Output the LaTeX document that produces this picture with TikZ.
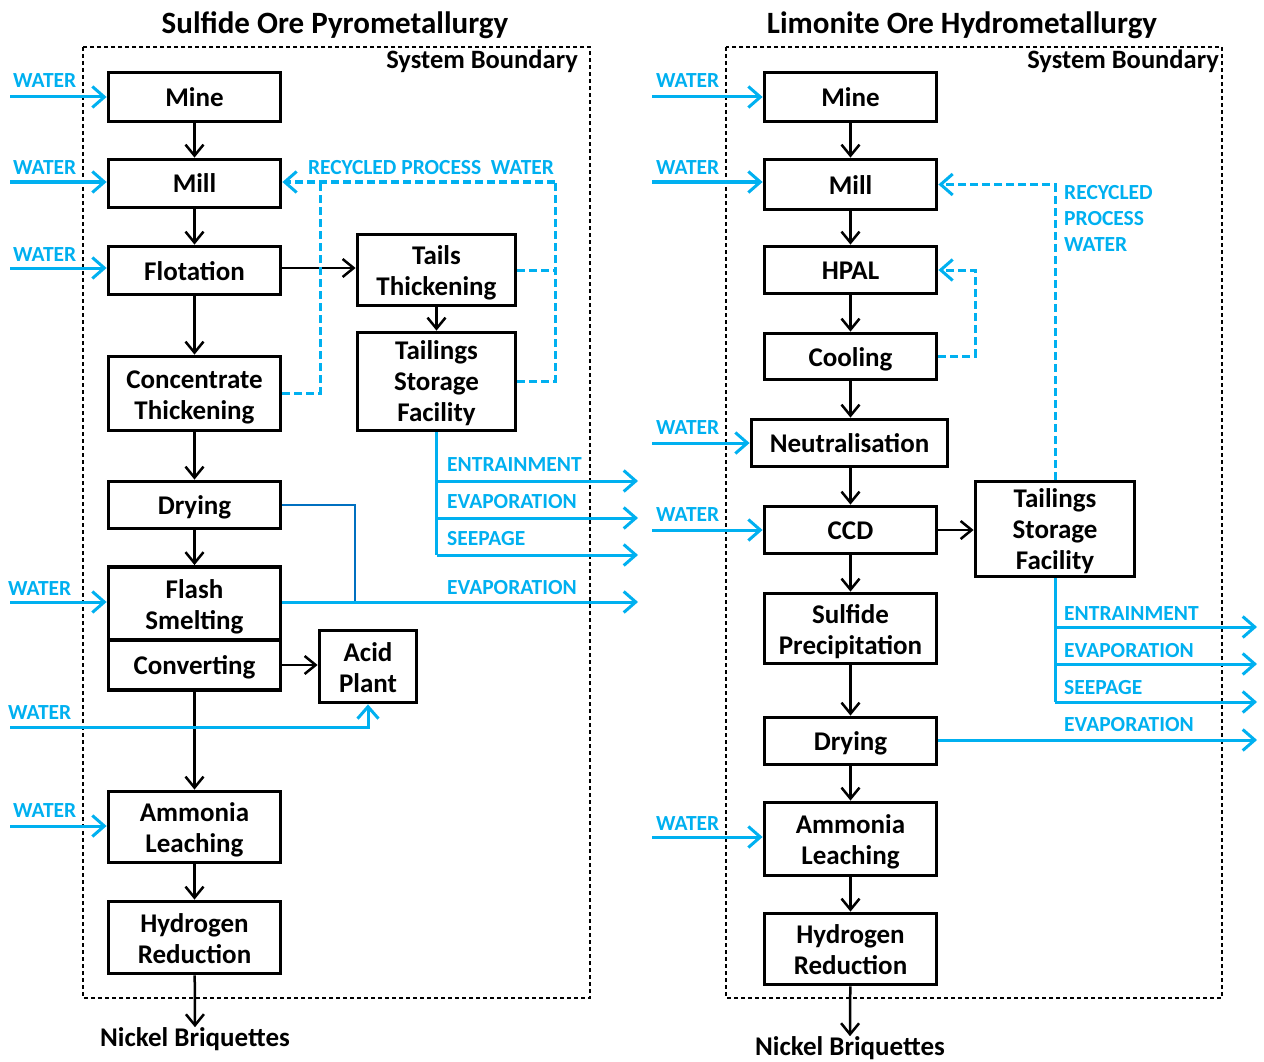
\documentclass[tikz,border=0pt]{standalone}
\usepackage{fontspec}
\setmainfont{Carlito}
\usetikzlibrary{arrows.meta}
\definecolor{cy}{RGB}{0,176,240}
\definecolor{dblue}{RGB}{0,112,192}
\newcommand\bxfont{\fontsize{27}{31}\selectfont\bfseries}
\newcommand\lbfont{\fontsize{21.5}{26}\selectfont\bfseries}
\begin{document}
\begin{tikzpicture}[x=1pt,y=-1pt,
  box/.style={draw, line width=3.8pt, align=center, font=\bxfont, inner sep=0pt},
  sl/.style={box, text height=21pt, text depth=2pt},
  ml/.style={box, text height=51pt, text depth=0pt},
  tl/.style={box, text height=80pt, text depth=0pt},
  arr/.style={line width=2.5pt, -{Straight Barb[length=11pt,width=18pt,line width=2.5pt]}},
  bl/.style={cy, line width=3pt},
  barr/.style={cy, line width=3pt, -{Straight Barb[length=12pt,width=21pt,line width=3pt]}},
  dsh/.style={cy, line width=3pt, dash pattern=on 8pt off 4pt},
  dsharr/.style={dsh, -{Straight Barb[length=12pt,width=21pt,line width=3pt]}},
  lab/.style={cy, font=\lbfont, inner sep=0pt},
  bound/.style={line width=1.3pt, dash pattern=on 4pt off 3pt},
  ttl/.style={font=\fontsize{31}{36}\selectfont\bfseries, inner sep=0pt},
  sysb/.style={font=\fontsize{26.5}{30}\selectfont\bfseries, inner sep=0pt, anchor=base east},
  nick/.style={font=\fontsize{27}{31}\selectfont\bfseries, inner sep=0pt}
]
\useasboundingbox (0,0) rectangle (1264,1062);

% ---------- titles and boundaries ----------
\node[ttl] (tL) at (335,25) {Sulfide Ore Pyrometallurgy};
\node[ttl] (tR) at (962,25) {Limonite Ore Hydrometallurgy};
\draw[bound] (83,47) rectangle (590,998);
\draw[bound] (726,47) rectangle (1222,998);
\node[sysb] (sbL) at (578,69) {System Boundary};
\node[sysb] (sbR) at (1219,69) {System Boundary};

% ---------- left boxes ----------
\node[sl, minimum width=172pt, minimum height=49pt] (L-mine) at (194.5,97) {Mine};
\node[sl, minimum width=172pt, minimum height=48pt] (L-mill) at (194.5,183.5) {Mill};
\node[sl, minimum width=172pt, minimum height=48pt] (L-flot) at (194.5,270.5) {Flotation};
\node[ml, minimum width=172pt, minimum height=74pt] (L-conc) at (194.5,393.5) {Concentrate\\Thickening};
\node[sl, minimum width=172pt, minimum height=47pt] (L-dry) at (194.5,505) {Drying};
\node[ml, minimum width=172pt, minimum height=73pt] (L-flash) at (194.5,603.5) {Flash\\Smelting};
\node[sl, minimum width=172pt, minimum height=50pt] (L-conv) at (194.5,665) {Converting};
\node[ml, minimum width=97pt, minimum height=72pt] (L-acid) at (368,666.5) {Acid\\Plant};
\node[ml, minimum width=172pt, minimum height=71pt] (L-amm) at (194.5,827) {Ammonia\\Leaching};
\node[ml, minimum width=172pt, minimum height=72pt] (L-h2) at (194.5,937.5) {Hydrogen\\Reduction};
\node[ml, minimum width=158pt, minimum height=71pt] (L-tails) at (436.5,270) {Tails\\Thickening};
\node[tl, minimum width=158pt, minimum height=98pt] (L-tsf) at (436.5,381.5) {Tailings\\Storage\\Facility};
\node[nick] (L-nick) at (195,1039) {Nickel Briquettes};

% ---------- left black flows ----------
\draw[arr] (L-mine) -- (L-mill);
\draw[arr] (L-mill) -- (L-flot);
\draw[arr] (L-flot) -- (L-conc);
\draw[arr] (L-conc) -- (L-dry);
\draw[arr] (L-dry) -- (L-flash);
\draw[arr] (L-conv) -- (L-amm);
\draw[arr] (L-amm) -- (L-h2);
\draw[arr] (L-h2) -- (L-nick.north);
\draw[arr] (L-flot.east |- 0,268) -- (L-tails.west |- 0,268);
\draw[arr] (L-tails) -- (L-tsf);
\draw[arr] (L-conv.east) -- (L-conv.east -| L-acid.west);

% ---------- left water inputs ----------
\coordinate (lw1) at (10,97);
\coordinate (lw2) at (10,182);
\coordinate (lw3) at (10,268);
\coordinate (lw4) at (10,602);
\coordinate (lw5) at (10,727);
\coordinate (lw6) at (10,826);
\draw[barr] (lw1) -- (lw1 -| L-mine.west);
\draw[barr] (lw2) -- (lw2 -| L-mill.west);
\draw[barr] (lw3) -- (lw3 -| L-flot.west);
\draw[barr] (lw4) -- (lw4 -| L-flash.west);
\draw[barr] (lw5) -| (L-acid.south);
\draw[barr] (lw6) -- (lw6 -| L-amm.west);
\node[lab, anchor=base west] (lwl1) at (13,88) {WATER};
\node[lab, anchor=base west] (lwl2) at (13,175) {WATER};
\node[lab, anchor=base west] (lwl3) at (13,261) {WATER};
\node[lab, anchor=base west] (lwl4) at (8,595) {WATER};
\node[lab, anchor=base west] (lwl5) at (8,719) {WATER};
\node[lab, anchor=base west] (lwl6) at (13,817) {WATER};

% ---------- left recycled water ----------
\coordinate (rL) at (320,182);
\coordinate (rR) at (555,182);
\draw[dsh] (L-conc.east) -| (rL);
\draw[dsh] (L-tsf.east) -| (rR);
\draw[dsh] (L-tails.east) -- (L-tails.east -| rR);
\draw[dsharr] (rR) -- (L-mill.east |- rR);
\node[lab] (lrec) at (431,168) {RECYCLED PROCESS\ \ WATER};

% ---------- left outputs ----------
\coordinate (lt1) at (436.5,481);
\coordinate (lt2) at (436.5,518);
\coordinate (lt3) at (436.5,555);
\coordinate (le1) at (638,481);
\coordinate (le2) at (638,518);
\coordinate (le3) at (638,555);
\coordinate (le4) at (638,602);
\coordinate (ldj) at (355,602);
\draw[bl] (L-tsf.south) -- (lt3);
\draw[barr] (lt1) -- (le1);
\draw[barr] (lt2) -- (le2);
\draw[barr] (lt3) -- (le3);
\draw[dblue, line width=2.5pt] (L-dry.east) -| (ldj);
\draw[barr] (L-flash.east |- le4) -- (le4);
\node[lab, anchor=base west] (lo1) at (447,471) {ENTRAINMENT};
\node[lab, anchor=base west] (lo2) at (447,508) {EVAPORATION};
\node[lab, anchor=base west] (lo3) at (447,545) {SEEPAGE};
\node[lab, anchor=base west] (lo4) at (447,594) {EVAPORATION};

% ---------- right boxes ----------
\node[sl, minimum width=172pt, minimum height=49pt] (R-mine) at (850.5,97) {Mine};
\node[sl, minimum width=172pt, minimum height=50pt] (R-mill) at (850.5,184.5) {Mill};
\node[sl, minimum width=172pt, minimum height=47pt] (R-hpal) at (850.5,270) {HPAL};
\node[sl, minimum width=172pt, minimum height=46pt] (R-cool) at (850.5,356.5) {Cooling};
\node[sl, minimum width=196pt, minimum height=47pt] (R-neut) at (849.5,443) {Neutralisation};
\node[sl, minimum width=172pt, minimum height=47pt] (R-ccd) at (850.5,530) {CCD};
\node[ml, minimum width=172pt, minimum height=70pt] (R-sulf) at (850.5,628.5) {Sulfide\\Precipitation};
\node[sl, minimum width=172pt, minimum height=47pt] (R-dry) at (850.5,741) {Drying};
\node[ml, minimum width=172pt, minimum height=73pt] (R-amm) at (850.5,839) {Ammonia\\Leaching};
\node[ml, minimum width=172pt, minimum height=71pt] (R-h2) at (850.5,949) {Hydrogen\\Reduction};
\node[tl, minimum width=159pt, minimum height=95pt] (R-tsf) at (1055,529) {Tailings\\Storage\\Facility};
\node[nick] (R-nick) at (850,1048) {Nickel Briquettes};

% ---------- right black flows ----------
\draw[arr] (R-mine) -- (R-mill);
\draw[arr] (R-mill) -- (R-hpal);
\draw[arr] (R-hpal) -- (R-cool);
\draw[arr] (R-cool.south) -- (R-cool.south |- R-neut.north);
\draw[arr] (R-cool.south |- R-neut.south) -- (R-ccd.north);
\draw[arr] (R-ccd) -- (R-sulf);
\draw[arr] (R-sulf) -- (R-dry);
\draw[arr] (R-dry) -- (R-amm);
\draw[arr] (R-amm) -- (R-h2);
\draw[arr] (R-h2) -- (R-nick.north);
\draw[arr] (R-ccd.east) -- (R-ccd.east -| R-tsf.west);

% ---------- right water inputs ----------
\coordinate (rw1) at (652,97);
\coordinate (rw2) at (652,182);
\coordinate (rw3) at (652,443);
\coordinate (rw4) at (652,530);
\coordinate (rw5) at (652,837);
\draw[barr] (rw1) -- (rw1 -| R-mine.west);
\draw[barr] (rw2) -- (rw2 -| R-mill.west);
\draw[barr] (rw3) -- (rw3 -| R-neut.west);
\draw[barr] (rw4) -- (rw4 -| R-ccd.west);
\draw[barr] (rw5) -- (rw5 -| R-amm.west);
\node[lab, anchor=base west] (rwl1) at (656,88) {WATER};
\node[lab, anchor=base west] (rwl2) at (656,175) {WATER};
\node[lab, anchor=base west] (rwl3) at (656,434) {WATER};
\node[lab, anchor=base west] (rwl4) at (656,521) {WATER};
\node[lab, anchor=base west] (rwl5) at (656,830) {WATER};

% ---------- right recycled water ----------
\coordinate (hp) at (975,270);
\draw[dsharr] (R-tsf.north) |- (R-mill.east);
\draw[dsharr] (R-cool.east) -| (hp) -- (R-hpal.east);
\node[lab, anchor=west, align=left] (rrec) at (1064,218) {RECYCLED\\PROCESS\\WATER};

% ---------- right outputs ----------
\coordinate (rt1) at (1055,627);
\coordinate (rt2) at (1055,664);
\coordinate (rt3) at (1055,702);
\coordinate (re1) at (1257,627);
\coordinate (re2) at (1257,664);
\coordinate (re3) at (1257,702);
\coordinate (re4) at (1257,740);
\draw[bl] (R-tsf.south) -- (rt3);
\draw[barr] (rt1) -- (re1);
\draw[barr] (rt2) -- (re2);
\draw[barr] (rt3) -- (re3);
\draw[barr] (R-dry.east |- re4) -- (re4);
\node[lab, anchor=base west] (ro1) at (1064,620) {ENTRAINMENT};
\node[lab, anchor=base west] (ro2) at (1064,657) {EVAPORATION};
\node[lab, anchor=base west] (ro3) at (1064,694) {SEEPAGE};
\node[lab, anchor=base west] (ro4) at (1064,731) {EVAPORATION};
\end{tikzpicture}
\end{document}
